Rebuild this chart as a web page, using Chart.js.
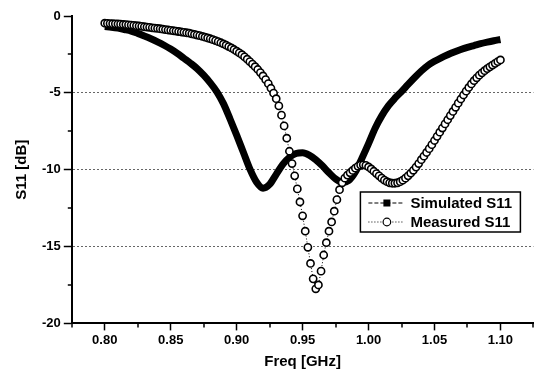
<!DOCTYPE html>
<html>
<head>
<meta charset="utf-8">
<script src="https://cdn.jsdelivr.net/npm/chart.js@4/dist/chart.umd.min.js"></script>
<style>
html,body{margin:0;padding:0;background:#fff;}
#wrap{width:539px;height:372px;position:relative;}
</style>
</head>
<body>
<div id="wrap"><canvas id="c" width="539" height="372"></canvas></div>
<script>
// ---- data ----
const simFreq = [0.800,0.805,0.810,0.815,0.820,0.825,0.830,0.835,0.840,0.845,
  0.850,0.855,0.860,0.865,0.870,0.875,0.880,0.885,0.890,0.895,
  0.900,0.905,0.910,0.915,0.920,0.925,0.930,0.935,0.940,0.945,
  0.950,0.955,0.960,0.965,0.970,0.975,0.980,0.985,0.990,0.995,
  1.000,1.005,1.010,1.015,1.020,1.025,1.030,1.035,1.040,1.045,
  1.050,1.055,1.060,1.065,1.070,1.075,1.080,1.085,1.090,1.095,1.100];
const simS11 = [-0.69,-0.73,-0.79,-0.88,-0.98,-1.13,-1.30,-1.48,-1.68,-1.90,
  -2.15,-2.43,-2.75,-3.07,-3.42,-3.85,-4.35,-4.93,-5.70,-6.70,
  -7.75,-8.85,-9.95,-10.80,-11.20,-10.95,-10.30,-9.65,-9.20,-8.95,
  -8.90,-9.05,-9.35,-9.75,-10.20,-10.60,-10.82,-10.70,-10.15,-9.25,
  -8.30,-7.30,-6.50,-5.85,-5.35,-4.92,-4.45,-4.00,-3.58,-3.22,
  -2.95,-2.72,-2.52,-2.34,-2.18,-2.04,-1.92,-1.80,-1.70,-1.61,-1.53];

const measFreq = [0.800,0.802,0.804,0.806,0.808,0.810,0.812,0.814,0.816,0.818,
  0.820,0.822,0.824,0.826,0.828,0.830,0.832,0.834,0.836,0.838,
  0.840,0.842,0.844,0.846,0.848,0.850,0.852,0.854,0.856,0.858,
  0.860,0.862,0.864,0.866,0.868,0.870,0.872,0.874,0.876,0.878,
  0.880,0.882,0.884,0.886,0.888,0.890,0.892,0.894,0.896,0.898,
  0.900,0.902,0.904,0.906,0.908,0.910,0.912,0.914,0.916,0.918,
  0.920,0.922,0.924,0.926,0.928,0.930,0.932,0.934,0.936,0.938,
  0.940,0.942,0.944,0.946,0.948,0.950,0.952,0.954,0.956,0.958,
  0.960,0.962,0.964,0.966,0.968,0.970,0.972,0.974,0.976,0.978,
  0.980,0.982,0.984,0.986,0.988,0.990,0.992,0.994,0.996,0.998,
  1.000,1.002,1.004,1.006,1.008,1.010,1.012,1.014,1.016,1.018,
  1.020,1.022,1.024,1.026,1.028,1.030,1.032,1.034,1.036,1.038,
  1.040,1.042,1.044,1.046,1.048,1.050,1.052,1.054,1.056,1.058,
  1.060,1.062,1.064,1.066,1.068,1.070,1.072,1.074,1.076,1.078,
  1.080,1.082,1.084,1.086,1.088,1.090,1.092,1.094,1.096,1.098,1.100];
const measS11 = [-0.47,-0.48,-0.49,-0.50,-0.51,-0.52,-0.53,-0.55,-0.56,-0.58,
  -0.59,-0.61,-0.63,-0.65,-0.67,-0.70,-0.72,-0.74,-0.77,-0.79,
  -0.81,-0.83,-0.86,-0.88,-0.91,-0.93,-0.96,-0.98,-1.01,-1.04,
  -1.06,-1.09,-1.12,-1.16,-1.20,-1.24,-1.28,-1.33,-1.38,-1.43,
  -1.48,-1.54,-1.60,-1.67,-1.74,-1.82,-1.90,-1.99,-2.08,-2.18,
  -2.29,-2.40,-2.52,-2.66,-2.81,-2.97,-3.13,-3.30,-3.48,-3.68,
  -3.90,-4.14,-4.40,-4.70,-5.02,-5.38,-5.85,-6.45,-7.15,-7.95,
  -8.80,-9.60,-10.40,-11.25,-12.10,-13.00,-14.00,-15.05,-16.10,-17.10,
  -17.75,-17.50,-16.60,-15.55,-14.75,-14.00,-13.40,-12.70,-11.95,-11.30,
  -10.85,-10.55,-10.35,-10.20,-10.05,-9.90,-9.78,-9.70,-9.68,-9.72,
  -9.82,-9.95,-10.10,-10.25,-10.40,-10.55,-10.68,-10.78,-10.85,-10.88,
  -10.88,-10.85,-10.78,-10.68,-10.55,-10.40,-10.23,-10.04,-9.83,-9.60,
  -9.35,-9.12,-8.88,-8.63,-8.37,-8.10,-7.83,-7.56,-7.29,-7.02,
  -6.75,-6.48,-6.21,-5.94,-5.67,-5.40,-5.14,-4.89,-4.65,-4.42,
  -4.21,-4.02,-3.85,-3.70,-3.56,-3.43,-3.31,-3.19,-3.08,-2.97,-2.86];

const xTickValues = [0.80,0.85,0.90,0.95,1.00,1.05,1.10];
const yTickValues = [0,-5,-10,-15,-20];
const seriesLabels = ['Simulated S11','Measured S11'];
const xTitle = 'Freq [GHz]';
const yTitle = 'S11 [dB]';

// ---- chart ----
const FONT = "'Liberation Sans', Arial, sans-serif";

const minorTicks = {
  id: 'minorTicks',
  afterDraw(chart) {
    const ctx = chart.ctx, xs = chart.scales.x, ys = chart.scales.y, ca = chart.chartArea;
    ctx.save();
    ctx.strokeStyle = '#000';
    ctx.lineWidth = 1.5;
    ctx.beginPath();
    const xStep = xTickValues[1] - xTickValues[0];
    const xm = [xTickValues[0] - xStep / 2].concat(xTickValues.map(v => v + xStep / 2));
    xm.forEach(v => {
      if (v < xs.min - 1e-9 || v > xs.max + 1e-9) return;
      const px = Math.round(xs.getPixelForValue(v));
      ctx.moveTo(px, ca.bottom); ctx.lineTo(px, ca.bottom + 4);
    });
    for (let i = 0; i < yTickValues.length - 1; i++) {
      const v = (yTickValues[i] + yTickValues[i + 1]) / 2;
      const py = Math.round(ys.getPixelForValue(v));
      ctx.moveTo(ca.left - 4, py); ctx.lineTo(ca.left, py);
    }
    ctx.stroke();
    ctx.restore();
  }
};

const boxLegend = {
  id: 'boxLegend',
  afterDraw(chart) {
    const ctx = chart.ctx, ca = chart.chartArea;
    const bx = ca.right - 173, by = ca.top + 176, bw = 160, bh = 40;
    ctx.save();
    ctx.fillStyle = '#fff';
    ctx.fillRect(bx, by, bw, bh);
    ctx.strokeStyle = '#000';
    ctx.lineWidth = 1.5;
    ctx.strokeRect(bx, by, bw, bh);
    const rows = [by + 11, by + 30];
    ctx.lineWidth = 1;
    ctx.setLineDash([4, 2]);
    ctx.beginPath(); ctx.moveTo(bx + 8, rows[0]); ctx.lineTo(bx + 44, rows[0]); ctx.stroke();
    ctx.setLineDash([]);
    ctx.fillStyle = '#000';
    ctx.fillRect(bx + 23, rows[0] - 3.5, 7, 7);
    ctx.setLineDash([1, 2]);
    ctx.beginPath(); ctx.moveTo(bx + 8, rows[1]); ctx.lineTo(bx + 44, rows[1]); ctx.stroke();
    ctx.setLineDash([]);
    ctx.fillStyle = '#fff';
    ctx.lineWidth = 1.2;
    ctx.beginPath(); ctx.arc(bx + 26.5, rows[1], 3.8, 0, Math.PI * 2); ctx.fill(); ctx.stroke();
    ctx.fillStyle = '#000';
    ctx.font = 'bold 15px ' + FONT;
    ctx.textBaseline = 'middle';
    ctx.textAlign = 'left';
    ctx.fillText(chart.data.datasets[0].label, bx + 50, rows[0] + 1);
    ctx.fillText(chart.data.datasets[1].label, bx + 50, rows[1] + 1);
    ctx.restore();
  }
};

new Chart(document.getElementById('c'), {
  type: 'line',
  data: {
    datasets: [
      {
        label: seriesLabels[0],
        data: simFreq.map((f, i) => ({x: f, y: simS11[i]})),
        borderColor: '#000',
        backgroundColor: '#000',
        borderWidth: 7,
        pointRadius: 0,
        cubicInterpolationMode: 'monotone',
        borderCapStyle: 'butt',
        order: 1
      },
      {
        label: seriesLabels[1],
        data: measFreq.map((f, i) => ({x: f, y: measS11[i]})),
        borderColor: '#000',
        backgroundColor: '#fff',
        borderWidth: 1,
        borderDash: [1, 2],
        pointRadius: 3.6,
        pointBorderWidth: 1.6,
        pointBorderColor: '#000',
        pointBackgroundColor: '#fff',
        tension: 0,
        order: 0
      }
    ]
  },
  options: {
    responsive: false,
    animation: false,
    devicePixelRatio: 1,
    layout: {padding: {left: 7, right: 4, top: 16, bottom: 1}},
    plugins: {legend: {display: false}, tooltip: {enabled: false}},
    scales: {
      x: {
        type: 'linear',
        min: 0.775,
        max: 1.125,
        afterBuildTicks: s => { s.ticks = xTickValues.map(v => ({value: v})); },
        grid: {drawOnChartArea: false, tickLength: 7, tickColor: '#000', tickWidth: 1.5},
        border: {display: true, color: '#000', width: 2},
        ticks: {
          color: '#000', padding: 2, maxRotation: 0, autoSkip: false,
          font: {family: FONT, size: 13, weight: 'bold'},
          callback: v => v.toFixed(2)
        },
        title: {display: true, text: xTitle, color: '#000', padding: {top: 3, bottom: 0},
          font: {family: FONT, size: 15, weight: 'bold'}}
      },
      y: {
        type: 'linear',
        min: -20,
        max: 0,
        afterBuildTicks: s => { s.ticks = yTickValues.map(v => ({value: v})); },
        grid: {
          color: c => (c.tick && (c.tick.value === 0 || c.tick.value === -20)) ? 'rgba(0,0,0,0)' : '#666',
          lineWidth: 1,
          tickLength: 8, tickColor: '#000', tickWidth: 1.5
        },
        border: {display: true, color: '#000', width: 2, dash: [2, 2]},
        ticks: {
          color: '#000', padding: 3, autoSkip: false,
          font: {family: FONT, size: 13, weight: 'bold'},
          callback: v => String(v)
        },
        title: {display: true, text: yTitle, color: '#000', padding: {top: 6, bottom: 8},
          font: {family: FONT, size: 15, weight: 'bold'}}
      }
    }
  },
  plugins: [minorTicks, boxLegend]
});
</script>
</body>
</html>
